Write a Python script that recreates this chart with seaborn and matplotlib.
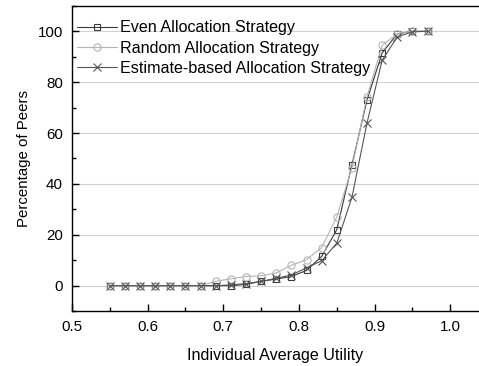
import numpy as np
import pandas as pd
import matplotlib
matplotlib.use("Agg")
import matplotlib.pyplot as plt
from matplotlib.ticker import MultipleLocator
import seaborn as sns

utility = [0.55, 0.57, 0.59, 0.61, 0.63, 0.65, 0.67, 0.69, 0.71, 0.73, 0.75,
           0.77, 0.79, 0.81, 0.83, 0.85, 0.87, 0.89, 0.91, 0.93, 0.95, 0.97]
even = [0, 0, 0, 0, 0, 0, 0, 0, 0, 0.5, 1.7, 2.6, 3.6, 6, 11.5, 22, 47.5, 73, 91.5, 99, 100, 100]
random_ = [0, 0, 0, 0, 0, 0, 0, 1.7, 2.7, 3.6, 3.9, 5, 8, 10.2, 15, 27, 46.4, 74.3, 94.5, 99, 100, 100]
estimate = [0, 0, 0, 0, 0, 0, 0, 0, 0.3, 0.8, 1.7, 2.9, 4.2, 7, 9.8, 16.7, 34.7, 64, 88.6, 97.8, 99.8, 100]

series_names = ["Even Allocation Strategy", "Random Allocation Strategy",
                "Estimate-based Allocation Strategy"]
series_vals = [even, random_, estimate]
colors = ["#3a3a3a", "#b4b4b4", "#555555"]
markers = ["s", "o", "x"]
msizes = [4.2, 5.2, 5.5]

sns.set_theme(style="white")
plt.rcParams['font.family'] = ['Liberation Sans', 'DejaVu Sans']

fig = plt.figure(figsize=(4.79, 3.66), dpi=100)
ax = fig.add_axes([0.1503, 0.150, 0.8497, 0.834])

for name, vals, c, m, ms in zip(series_names, series_vals, colors, markers, msizes):
    df = pd.DataFrame({"x": utility, "y": vals})
    sns.lineplot(data=df, x="x", y="y", ax=ax, color=c, marker=m,
                 markersize=ms, markerfacecolor="none",
                 markeredgecolor=c, markeredgewidth=0.8, linewidth=0.8,
                 label=name)

ax.set_xlim(0.5, 1.038)
ax.set_ylim(-10, 110)
ax.xaxis.set_major_locator(MultipleLocator(0.1))
ax.xaxis.set_minor_locator(MultipleLocator(0.05))
ax.yaxis.set_major_locator(MultipleLocator(20))
ax.yaxis.set_minor_locator(MultipleLocator(10))
ax.xaxis.set_major_formatter(matplotlib.ticker.FormatStrFormatter("%.1f"))
ax.tick_params(which="both", direction="in", bottom=True, left=True,
               top=False, right=False, labelsize=10.9, colors="black", pad=6.5)
ax.tick_params(which="major", length=5, width=1)
ax.tick_params(which="minor", length=3, width=1)
ax.yaxis.grid(True, which="major", color="#d0d0d0", linewidth=0.8)
ax.xaxis.grid(False)
ax.set_axisbelow(True)
for s in ["left", "bottom", "top"]:
    ax.spines[s].set_visible(True)
    ax.spines[s].set_color("black")
    ax.spines[s].set_linewidth(1.0)
ax.spines["right"].set_visible(False)

ax.set_xlabel("Individual Average Utility", fontsize=11.6, color="black", labelpad=10)
ax.set_ylabel("Percentage of Peers", fontsize=10.8, color="black", labelpad=5)

leg = ax.legend(loc="upper left", frameon=False, fontsize=11.6,
                handlelength=2.5, handletextpad=0.2, labelspacing=0.32,
                borderaxespad=0.1, borderpad=0.2, bbox_to_anchor=(0.0, 0.968))
for t in leg.get_texts():
    t.set_color("black")

fig.savefig("out.png", dpi=100)
